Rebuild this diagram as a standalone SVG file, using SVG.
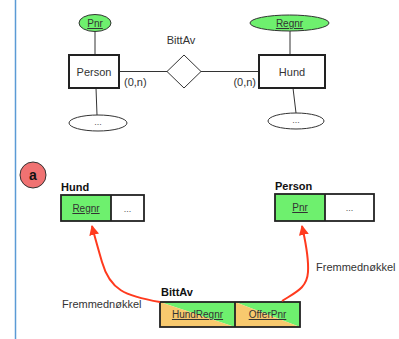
<svg xmlns="http://www.w3.org/2000/svg" width="399" height="339" viewBox="0 0 399 339">
  <defs>
    <style>
      text { font-family: "Liberation Sans", Arial, sans-serif; fill: #333; }
      .lbl { font-size: 11px; }
      .cell { font-size: 10px; text-decoration: underline; text-anchor: middle; }
      .dots { font-size: 9px; text-anchor: middle; fill: #555; }
      .title { font-size: 11px; font-weight: bold; fill: #111; }
      .ln { stroke: #333; stroke-width: 1; fill: none; }
      .box { fill: #fff; stroke: #222; stroke-width: 2; }
      .key { fill: #6ef06e; stroke: #333; stroke-width: 1; }
      .attr { fill: #fff; stroke: #333; stroke-width: 1; }
      .tbl { fill: none; stroke: #222; stroke-width: 1.8; }
      .fk { stroke: #ff3a1e; stroke-width: 2; fill: none; }
    </style>
    <marker id="arrow" viewBox="0 0 10 10" refX="9" refY="5" markerWidth="5" markerHeight="5" orient="auto-start-reverse" markerUnits="strokeWidth">
      <path d="M0,0 L10,5 L0,10 Z" fill="#ff3a1e"/>
    </marker>
  </defs>

  <rect width="399" height="339" fill="#fff"/>
  <line x1="15.5" y1="0" x2="15.5" y2="339" stroke="#5b9bd5" stroke-width="1.5"/>

  <!-- ER part -->
  <g id="edges">
    <line class="ln" x1="95" y1="31" x2="95" y2="55"/>
    <line class="ln" x1="96" y1="88" x2="97" y2="115"/>
    <line class="ln" x1="119" y1="71.5" x2="167" y2="71.5"/>
    <line class="ln" x1="201" y1="71.5" x2="259" y2="71.5"/>
    <line class="ln" x1="290" y1="31" x2="290" y2="55"/>
    <line class="ln" x1="293" y1="88" x2="296" y2="113"/>
  </g>

  <g id="pnr-attr">
    <ellipse class="key" cx="95" cy="23" rx="16" ry="8.5"/>
    <text class="cell" x="95" y="27">Pnr</text>
  </g>
  <g id="person-entity">
    <rect class="box" x="69" y="55" width="50" height="33"/>
    <text class="lbl" x="94" y="75.5" text-anchor="middle">Person</text>
  </g>
  <g id="person-more">
    <ellipse class="attr" cx="98" cy="123" rx="29" ry="8"/>
    <text class="dots" x="98" y="125">...</text>
  </g>

  <g id="bittav-rel">
    <polygon fill="#fff" stroke="#333" stroke-width="1" points="184,55 201,71.5 184,88 167,71.5"/>
    <text class="lbl" x="181" y="44" text-anchor="middle">BittAv</text>
  </g>
  <text class="lbl" x="124" y="86">(0,n)</text>
  <text class="lbl" x="256" y="86" text-anchor="end">(0,n)</text>

  <g id="regnr-attr">
    <ellipse class="key" cx="289.5" cy="23" rx="39.5" ry="8"/>
    <text class="cell" x="289.5" y="27">Regnr</text>
  </g>
  <g id="hund-entity">
    <rect class="box" x="259" y="55" width="66" height="33"/>
    <text class="lbl" x="292" y="75.5" text-anchor="middle">Hund</text>
  </g>
  <g id="hund-more">
    <ellipse class="attr" cx="296" cy="121" rx="28" ry="8"/>
    <text class="dots" x="296" y="123">...</text>
  </g>

  <!-- relational schema part -->
  <g id="badge-a">
    <circle cx="33" cy="175" r="13" fill="#f07272" stroke="#333" stroke-width="1"/>
    <text x="33" y="180" font-size="14" font-weight="bold" text-anchor="middle" style="fill:#111">a</text>
  </g>

  <g id="hund-table">
    <text class="title" x="61" y="191">Hund</text>
    <rect x="61" y="195" width="50" height="26" fill="#6ef06e"/>
    <rect class="tbl" x="61" y="195" width="83" height="26"/>
    <line class="tbl" x1="111" y1="195" x2="111" y2="221"/>
    <text class="cell" x="86" y="212">Regnr</text>
    <text class="dots" x="127.5" y="212">...</text>
  </g>

  <g id="person-table">
    <text class="title" x="275" y="190">Person</text>
    <rect x="275" y="194" width="50" height="27" fill="#6ef06e"/>
    <rect class="tbl" x="275" y="194" width="99" height="27"/>
    <line class="tbl" x1="325" y1="194" x2="325" y2="221"/>
    <text class="cell" x="300" y="211">Pnr</text>
    <text class="dots" x="349.5" y="211">...</text>
  </g>

  <g id="bittav-table">
    <text class="title" x="161" y="296">BittAv</text>
    <polygon points="160,302 235,302 235,327" fill="#6ef06e"/>
    <polygon points="160,302 235,327 160,327" fill="#f8c96e"/>
    <polygon points="235,302 300,302 300,327" fill="#6ef06e"/>
    <polygon points="235,302 300,327 235,327" fill="#f8c96e"/>
    <rect class="tbl" x="160" y="302" width="140" height="25"/>
    <line class="tbl" x1="235" y1="302" x2="235" y2="327"/>
    <text class="cell" x="197.5" y="318">HundRegnr</text>
    <text class="cell" x="267.5" y="318">OfferPnr</text>
  </g>

  <g id="connectors">
    <path class="fk" d="M160,302 C125,296 110,290 102,262 C98,248 95,238 92,226" marker-end="url(#arrow)"/>
    <path class="fk" d="M282,301 C296,292 307,288 308,272 C309,256 305,240 302,226" marker-end="url(#arrow)"/>
  </g>
  <text class="lbl" x="62" y="308">Fremmednøkkel</text>
  <text class="lbl" x="316" y="271">Fremmednøkkel</text>
</svg>
